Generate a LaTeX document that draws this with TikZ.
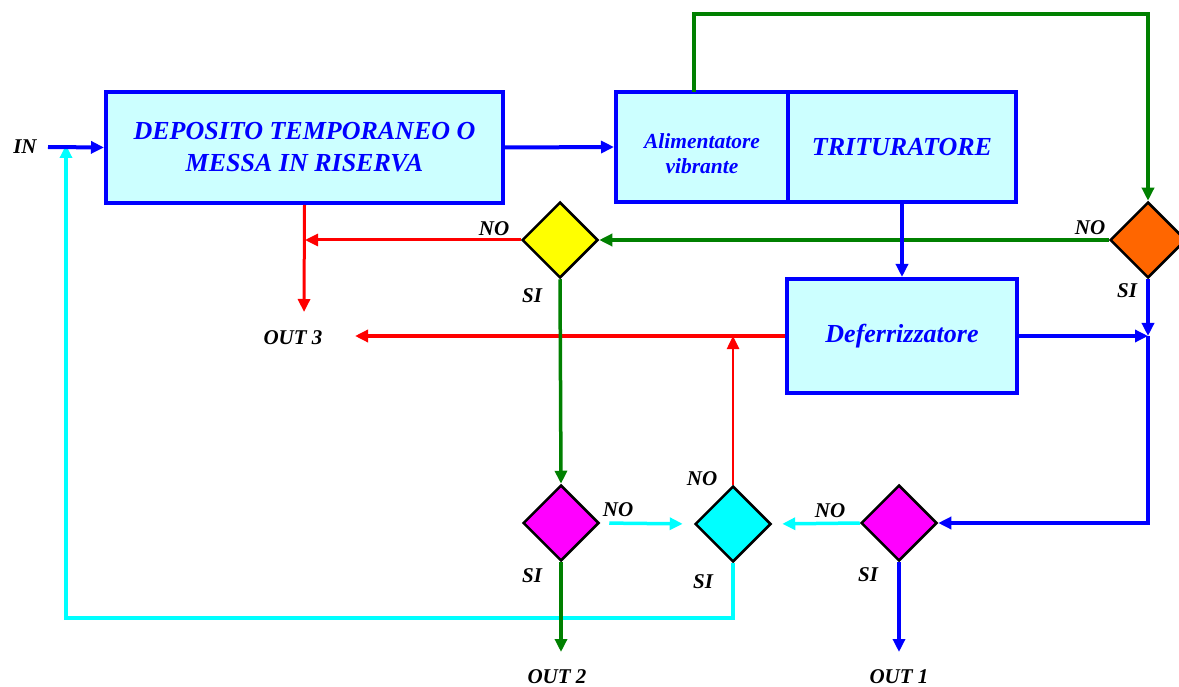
\documentclass[tikz,border=0pt]{standalone}
\usepackage{fontspec}
\setmainfont{Liberation Serif}
\usetikzlibrary{shapes.geometric,arrows.meta,calc}
\definecolor{boxfill}{RGB}{204,255,255}
\definecolor{dgreen}{RGB}{0,128,0}
\definecolor{cyanline}{RGB}{0,255,255}
\definecolor{orangeD}{RGB}{255,102,0}
\definecolor{magD}{RGB}{255,0,255}
\definecolor{yelD}{RGB}{255,255,0}
\begin{document}
\begin{tikzpicture}[x=1pt,y=-1pt,
  box/.style={draw=blue, line width=4pt, fill=boxfill, text=blue,
    font=\bfseries\itshape\fontsize{26}{32}\selectfont, align=center, inner sep=0pt},
  dec/.style={diamond, draw=black, line width=2.5pt, minimum width=76pt,
    minimum height=76pt, inner sep=0pt, aspect=1},
  lab/.style={font=\bfseries\itshape\fontsize{21}{24}\selectfont, text=black, inner sep=0pt},
  arr/.style={-{Triangle[length=13pt,width=12pt]}},
  bl/.style={draw=blue, line width=4pt, arr},
  gr/.style={draw=dgreen, line width=3.5pt, arr},
  rd/.style={draw=red, line width=3pt, arr},
  cy/.style={draw=cyanline, line width=3.5pt, arr}]
\useasboundingbox (0,0) rectangle (1179,687);

% boxes
\node[box, minimum width=397pt, minimum height=111pt] (dep) at (304.5,147.5)
  {DEPOSITO TEMPORANEO O\\MESSA IN RISERVA};
\node[box, minimum width=172pt, minimum height=110pt,
  font=\bfseries\itshape\fontsize{21.5}{25}\selectfont] (alim) at (702,147)
  {\raisebox{-14pt}[0pt][0pt]{\begin{tabular}{@{}c@{}}Alimentatore\\vibrante\end{tabular}}};
\node[box, minimum width=228pt, minimum height=110pt] (trit) at (902,147) {TRITURATORE};
\node[box, minimum width=230pt, minimum height=114pt] (def) at (902,336) {Deferrizzatore};

% diamonds
\node[dec, fill=yelD] (yel) at (560,240) {};
\node[dec, fill=orangeD] (ora) at (1148,240) {};
\node[dec, fill=magD] (mag1) at (561,523) {};
\node[dec, fill=cyanline] (cya) at (733,524) {};
\node[dec, fill=magD] (mag2) at (899,523) {};

% labels
\node[lab] (in) at (25,147) {IN};
\node[lab] (noO) at (1090,228) {NO};
\node[lab] (siO) at (1127,291) {SI};
\node[lab] (noY) at (494,229) {NO};
\node[lab] (siY) at (532,296) {SI};
\node[lab] (out3) at (293,338) {OUT 3};
\node[lab] (noM1) at (618,510) {NO};
\node[lab] (siM1) at (532,576) {SI};
\node[lab] (noC) at (702,479) {NO};
\node[lab] (siC) at (703,582) {SI};
\node[lab] (noM2) at (830,511) {NO};
\node[lab] (siM2) at (868,575) {SI};
\node[lab] (out2) at (557,677) {OUT 2};
\node[lab] (out1) at (899,677) {OUT 1};

% coordinates
\coordinate (inS) at (48,147);
\coordinate (alimTop) at (694,92);
\coordinate (gTop) at (694,14);
\coordinate (rY) at (305,240);
\coordinate (rD) at (304,312);
\coordinate (o3) at (355,336);
\coordinate (j1) at (1148,336);
\coordinate (o2) at (561,652);
\coordinate (o1) at (899,652);
\coordinate (c1) at (733,618);
\coordinate (c2) at (66,618);
\coordinate (c3) at (66,145);

% cyan loops
\draw[cy] (cya.south) -- (c1) -- (c2) -- (c3);
\draw[cy, shorten <=9pt, shorten >=11pt] (mag1.east) -- (cya.west);
\draw[cy, shorten >=10pt] (mag2.west) -- (cya.east);

% red
\draw[rd] (dep.south) -- (rD);
\draw[rd] (yel.west) -- (rY);
\draw[rd, line width=4pt] (def.west) -- (o3);
\draw[rd, line width=2.5pt] (cya.north) -- (cya.north |- def.west);

% green
\draw[gr] (alimTop) -- (gTop) -| (ora.north);
\draw[gr] (ora.west) -- (yel.east);
\draw[gr] (yel.south) -- (mag1.north);
\draw[gr] (mag1.south) -- (o2);

% blue
\draw[bl] (inS) -- (dep.west);
\draw[bl] (dep.east) -- (alim.west);
\draw[bl] (trit.south) -- (def.north);
\draw[bl] (ora.south) -- (j1);
\draw[bl] (def.east) -- (j1);
\draw[bl] (j1) |- (mag2.east);
\draw[bl] (mag2.south) -- (o1);
\end{tikzpicture}
\end{document}
